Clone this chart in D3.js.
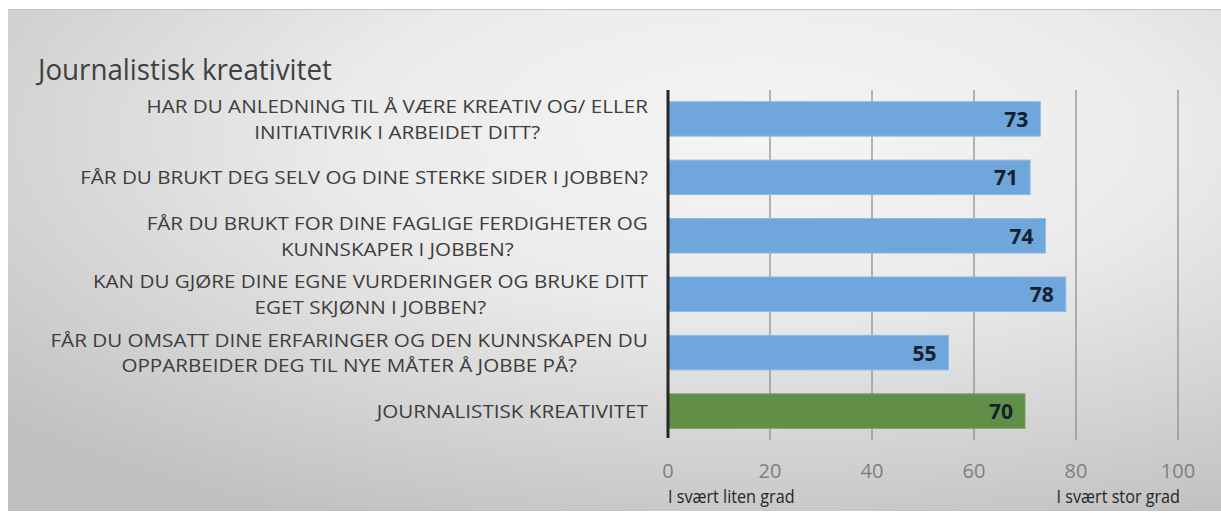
<!DOCTYPE html>
<html>
<head>
<meta charset="utf-8">
<script src="https://cdn.jsdelivr.net/npm/d3@7"></script>
<style>
  body { margin: 0; background: #fff; }
  svg { display: block; }
</style>
</head>
<body>
<div id="chart"></div>
<script>
// chart data
const chartTitle = "Journalistisk kreativitet";
const questions = [
  ["HAR DU ANLEDNING TIL Å VÆRE KREATIV OG/ ELLER", "INITIATIVRIK I ARBEIDET DITT?"],
  ["FÅR DU BRUKT DEG SELV OG DINE STERKE SIDER I JOBBEN?"],
  ["FÅR DU BRUKT FOR DINE FAGLIGE FERDIGHETER OG", "KUNNSKAPER I JOBBEN?"],
  ["KAN DU GJØRE DINE EGNE VURDERINGER OG BRUKE DITT", "EGET SKJØNN I JOBBEN?"],
  ["FÅR DU OMSATT DINE ERFARINGER OG DEN KUNNSKAPEN DU", "OPPARBEIDER DEG TIL NYE MÅTER Å JOBBE PÅ?"],
  ["JOURNALISTISK KREATIVITET"]
];
const scores = [73, 71, 74, 78, 55, 70];
const isTotal = [false, false, false, false, false, true];
const xTicks = [0, 20, 40, 60, 80, 100];
const endLabels = ["I svært liten grad", "I svært stor grad"];

function bargraph() {
  let W = 1221, H = 513,
    left = 668, right = 1178, top = 90, bottom = 440,
    labelRight = 648,
    xScale = d3.scaleLinear(),
    yScale = d3.scaleBand();

  function chart(selector) {
    let svg = d3.select(selector)
      .append("svg")
      .attr("width", W)
      .attr("height", H);

    let defs = svg.append("defs");
    let grad = defs.append("radialGradient")
      .attr("id", "bg")
      .attr("cx", "0.62").attr("cy", "0.25")
      .attr("r", "0.85");
    grad.append("stop").attr("offset", "0%").attr("stop-color", "#f5f5f5");
    grad.append("stop").attr("offset", "40%").attr("stop-color", "#ebebeb");
    grad.append("stop").attr("offset", "75%").attr("stop-color", "#d2d2d2");
    grad.append("stop").attr("offset", "100%").attr("stop-color", "#c0c0c0");

    // panel
    svg.append("rect")
      .attr("x", 8).attr("y", 9)
      .attr("width", W - 8).attr("height", 502)
      .attr("fill", "url(#bg)");
    svg.append("line")
      .attr("x1", 8).attr("x2", W)
      .attr("y1", 9.5).attr("y2", 9.5)
      .attr("stroke", "#c4c4c4");

    xScale.domain([0, 100]).range([left, right]);
    yScale.domain(d3.range(scores.length))
      .range([top, bottom])
      .paddingInner(0.41)
      .paddingOuter(0.2);

    // title
    let title = svg.append("text")
      .attr("font-family", "'Open Sans', sans-serif")
      .attr("font-size", 29)
      .attr("fill", "#404040")
      .text(chartTitle);
    let tw = title.node().getComputedTextLength();
    title.attr("transform", "translate(38,80) scale(" + (294 / tw) + ",1)");

    // gridlines
    svg.selectAll(".grid")
      .data(xTicks.filter(d => d > 0))
      .enter().append("line")
      .attr("class", "grid")
      .attr("x1", d => xScale(d)).attr("x2", d => xScale(d))
      .attr("y1", top).attr("y2", bottom)
      .attr("stroke", "#8f8f8f")
      .attr("stroke-width", 1.3);

    // bars
    svg.selectAll(".bar")
      .data(scores)
      .enter().append("rect")
      .attr("class", "bar")
      .attr("x", xScale(0))
      .attr("y", (d, i) => yScale(i))
      .attr("width", d => xScale(d) - xScale(0))
      .attr("height", yScale.bandwidth())
      .attr("fill", (d, i) => isTotal[i] ? "#618f47" : "#6fa6db")
      .attr("stroke", (d, i) => isTotal[i] ? "#79a35f" : "#8dbbe6")
      .attr("stroke-width", 1);

    // value labels
    svg.selectAll(".val")
      .data(scores)
      .enter().append("text")
      .attr("class", "val")
      .attr("x", d => xScale(d) - 12)
      .attr("y", (d, i) => yScale(i) + yScale.bandwidth() / 2 + 8)
      .attr("text-anchor", "end")
      .attr("font-family", "'Open Sans', sans-serif")
      .attr("font-weight", "bold")
      .attr("font-size", 21)
      .attr("fill", "#17202e")
      .text(d => d);

    // y axis line
    svg.append("line")
      .attr("x1", xScale(0)).attr("x2", xScale(0))
      .attr("y1", top).attr("y2", bottom - 2)
      .attr("stroke", "#262626")
      .attr("stroke-width", 3);

    // category labels, lines centred on each other, block right aligned
    let groups = svg.selectAll(".cat")
      .data(questions)
      .enter().append("g")
      .attr("class", "cat");
    groups.each(function (lines) {
      let t = d3.select(this).selectAll("text")
        .data(lines)
        .enter().append("text")
        .attr("text-anchor", "middle")
        .attr("y", (d, j) => (j - (lines.length - 1) / 2) * 25.5 + 7)
        .attr("font-family", "'Open Sans', sans-serif")
        .attr("font-size", 18.5)
        .attr("fill", "#3d3d3d")
        .text(d => d);
      let maxW = d3.max(t.nodes(), n => n.getComputedTextLength());
      t.attr("x", -maxW / 2);
    });
    // condense labels so the longest single line spans the same width as in the source
    let refW = groups.filter((d, i) => i === 1).select("text").node().getComputedTextLength();
    let k = 568 / refW;
    groups.attr("transform", (d, i) =>
      "translate(" + labelRight + "," + (yScale(i) + yScale.bandwidth() / 2) + ") scale(" + k + ",1)");

    // x axis tick labels
    svg.selectAll(".tick-label")
      .data(xTicks)
      .enter().append("text")
      .attr("class", "tick-label")
      .attr("x", d => xScale(d))
      .attr("y", 478)
      .attr("text-anchor", "middle")
      .attr("font-family", "'Open Sans', sans-serif")
      .attr("font-size", 20)
      .attr("fill", "#7f7f7f")
      .text(d => d);

    // scale end labels
    let ends = svg.selectAll(".end")
      .data(endLabels)
      .enter().append("text")
      .attr("class", "end")
      .attr("font-family", "'Open Sans', sans-serif")
      .attr("font-size", 18)
      .attr("fill", "#262626")
      .attr("text-anchor", (d, i) => i === 0 ? "start" : "end")
      .text(d => d);
    ends.attr("transform", (d, i) =>
      "translate(" + (i === 0 ? xScale(0) : xScale(100) + 2) + ",503) scale(0.9,1)");
  }

  return chart;
}

bargraph()("#chart");
</script>
</body>
</html>
